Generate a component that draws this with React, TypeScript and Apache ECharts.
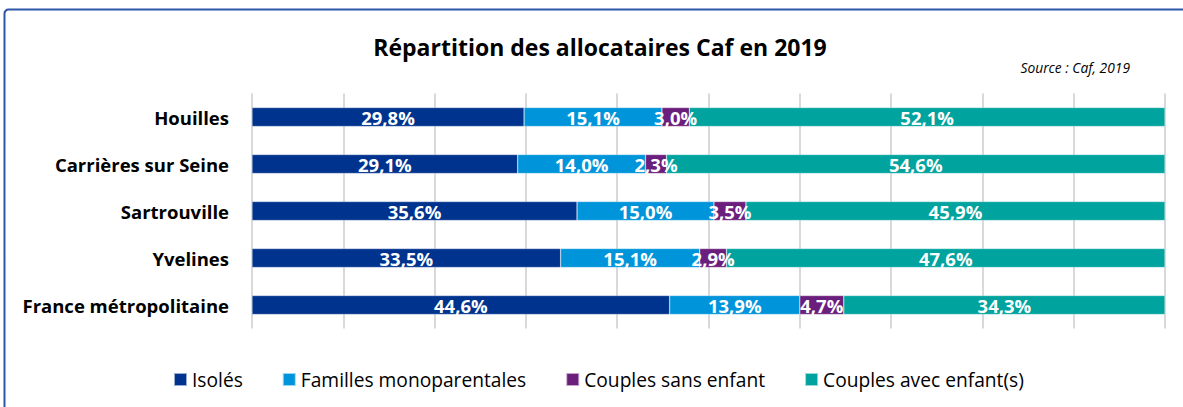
import React, { useEffect, useRef } from "react";
import * as echarts from "echarts";

const categories = ["Houilles", "Carrières sur Seine", "Sartrouville", "Yvelines", "France métropolitaine"];
const seriesNames = ["Isolés", "Familles monoparentales", "Couples sans enfant", "Couples avec enfant(s)"];
const isoles = [29.8, 29.1, 35.6, 33.5, 44.6];
const familles = [15.1, 14.0, 15.0, 15.1, 13.9];
const couplesSans = [3.0, 2.3, 3.5, 2.9, 4.7];
const couplesAvec = [52.1, 54.6, 45.9, 47.6, 34.3];
const colors = ["#00338E", "#0095DA", "#6B1F7C", "#00A39E"];

const FONT = "Open Sans";

export default function App() {
  const ref = useRef<HTMLDivElement>(null);
  useEffect(() => {
    if (!ref.current) return;
    const chart = echarts.init(ref.current, null, { renderer: "svg" });
    const raw = [isoles, familles, couplesSans, couplesAvec];
    const totals = categories.map((_, i) => raw.reduce((s, arr) => s + arr[i], 0));
    const series = raw.map((arr, k) => ({
      name: seriesNames[k],
      type: "bar",
      stack: "total",
      barWidth: 19,
      itemStyle: { color: colors[k], borderColor: "rgba(255,255,255,0.6)", borderWidth: 0.5 },
      label: {
        show: true,
        position: "inside",
        color: "#fff",
        fontFamily: FONT,
        fontWeight: "bold",
        fontSize: 18.5,
        formatter: (p: any) => arr[p.dataIndex].toFixed(1).replace(".", ",") + "%",
      },
      data: arr.map((v, i) => (v / totals[i]) * 100),
    }));
    chart.setOption({
      animation: false,
      textStyle: { fontFamily: FONT },
      title: {
        text: "Répartition des allocataires Caf en 2019",
        left: 595,
        textAlign: "center",
        top: 30,
        textStyle: { fontFamily: FONT, fontWeight: "bold", fontSize: 23, color: "#000" },
      },
      graphic: [
        {
          type: "rect",
          shape: { x: 4.5, y: 9.5, width: 1250, height: 450, r: 4 },
          style: { fill: "none", stroke: "#2E56A8", lineWidth: 2 },
          silent: true,
        },
        {
          type: "text",
          x: 1130,
          y: 67,
          style: {
            text: "Source : Caf, 2019",
            fontFamily: FONT,
            fontStyle: "italic",
            fontSize: 13.8,
            fill: "#000",
            align: "right",
            verticalAlign: "middle",
          },
        },
      ],
      legend: {
        data: seriesNames,
        top: 365,
        left: 168,
        itemWidth: 13,
        itemHeight: 13,
        itemGap: 39,
        icon: "rect",
        textStyle: { fontFamily: FONT, fontSize: 19.2, color: "#000" },
      },
      grid: { left: 252, top: 93.5, width: 913, height: 235, containLabel: false },
      xAxis: {
        type: "value",
        min: 0,
        max: 100,
        interval: 10,
        axisLabel: { show: false },
        axisLine: { show: false },
        axisTick: { show: false },
        splitLine: { show: true, lineStyle: { color: "#D9D9D9", width: 2 } },
      },
      yAxis: {
        type: "category",
        inverse: true,
        data: categories,
        axisLine: { show: false },
        axisTick: { show: false },
        axisLabel: {
          margin: 23,
          fontFamily: FONT,
          fontWeight: "bold",
          fontSize: 18.5,
          color: "#000",
        },
      },
      series,
    });
    return () => chart.dispose();
  }, []);
  return (
    <div
      ref={ref}
      style={{ position: "fixed", left: 0, top: 0, width: 1183, height: 407, background: "#fff" }}
    />
  );
}
